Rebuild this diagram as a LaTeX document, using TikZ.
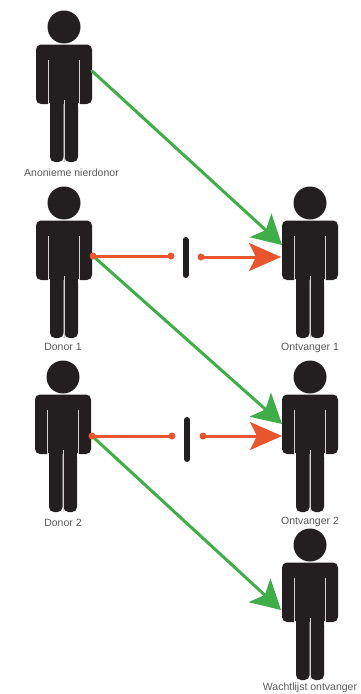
\documentclass[tikz,border=0pt]{standalone}
\usepackage{fontspec}
\setmainfont{Liberation Sans}
\usetikzlibrary{arrows.meta}
\definecolor{ink}{HTML}{231F20}
\definecolor{okgreen}{HTML}{3FAE49}
\definecolor{noorange}{HTML}{E9552C}
\tikzset{
  x=1pt,y=-1pt,
  person/.pic={
    \fill[ink] (0,0) circle[radius=16.5];
    \fill[ink,rounded corners=5pt] (-28,17.5) rectangle (28,77);
    \fill[ink,rounded corners=5pt] (-14,60) rectangle (-0.4,135);
    \fill[ink,rounded corners=5pt] (0.4,60) rectangle (14,135);
    \fill[white] (-15.6,76) rectangle (-14,80);
    \fill[white] (14,76) rectangle (15.6,80);
    \draw[gapline] (-15.6,33) -- (-15.6,77);
    \draw[gapline] (15.6,33) -- (15.6,77);
    \draw[gapline] (0,73) -- (0,135);
  },
  gapline/.style={draw=black!18,line width=0.9pt},
  caption/.style={text=black!65,font=\fontsize{10.5}{12}\selectfont,inner sep=0pt,anchor=center},
  yes/.style={draw=okgreen,line width=3pt,line cap=round,-{Stealth[length=29pt,width=32pt,inset=7pt]}},
  no/.style={draw=noorange,line width=3pt},
  dotstyle/.style={fill=noorange,circle,inner sep=0pt,minimum size=7pt},
  noend/.style={no,-{Stealth[length=32pt,width=28pt,inset=7pt]}},
  barstyle/.style={draw=ink,line width=6pt,line cap=round},
}
\begin{document}
\begin{tikzpicture}
\useasboundingbox (0,0) rectangle (360,694);
\fill[white] (0,0) rectangle (360,694);
\pic (pa) at (64,27) {person};
\pic (pb) at (64,203) {person};
\pic (pc) at (63,377) {person};
\pic (ra) at (310,203) {person};
\pic (rb) at (310,377) {person};
\pic (rc) at (310,545) {person};
\node[caption] (ta) at (71.5,173) {Anonieme nierdonor};
\node[caption] (tb) at (63,347) {Donor 1};
\node[caption] (tc) at (63,523) {Donor 2};
\node[caption] (tra) at (310,348) {Ontvanger 1};
\node[caption] (trb) at (310,522) {Ontvanger 2};
\node[caption] (trc) at (310,688) {Wachtlijst ontvanger};
\coordinate (sa) at (92,71);
\coordinate (ea) at (282,245);
\coordinate (eb) at (282,424);
\coordinate (ec) at (281,610);
\coordinate (oa3) at (281,257);
\coordinate (ob3) at (282,436);
\coordinate (ba1) at (185.5,240);
\coordinate (ba2) at (185.5,275);
\coordinate (bb1) at (187,420);
\coordinate (bb2) at (187,459);
\coordinate (gb) at (93,256);
\coordinate (gc) at (92,436);
\draw[yes] (sa) -- (ea);
\draw[yes] (gb) -- (eb);
\draw[yes] (gc) -- (ec);
\node[dotstyle] (sb) at (gb) {};
\node[dotstyle] (sc) at (gc) {};
\node[dotstyle] (oa1) at (171,256) {};
\node[dotstyle] (oa2) at (201,257) {};
\node[dotstyle] (ob1) at (172,436) {};
\node[dotstyle] (ob2) at (203,436) {};
\draw[no] (sb.center) -- (oa1.center);
\draw[noend] (oa2.center) -- (oa3);
\draw[no] (sc.center) -- (ob1.center);
\draw[noend] (ob2.center) -- (ob3);
\draw[barstyle] (ba1) -- (ba2);
\draw[barstyle] (bb1) -- (bb2);
\end{tikzpicture}
\end{document}
